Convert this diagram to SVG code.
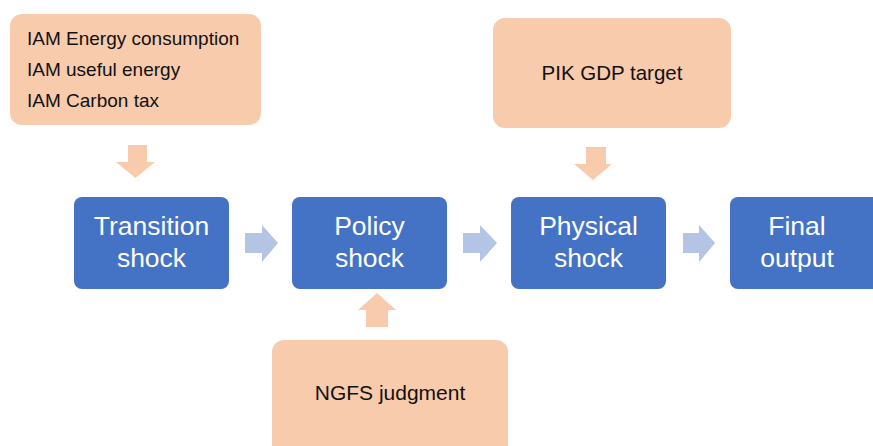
<svg xmlns="http://www.w3.org/2000/svg" width="873" height="446" viewBox="0 0 873 446">
<style>
.src{fill:#F8CBAD;}
.stage{fill:#4472C4;}
.t{font-family:"Liberation Sans","Open Sans",sans-serif;fill:#111111;}
.w{font-family:"Liberation Sans","Open Sans",sans-serif;fill:#ffffff;font-size:26.5px;text-anchor:middle;}
.oa{fill:#F8CBAD;}
.ba{fill:#B4C4E4;}
</style>
<rect width="873" height="446" fill="#ffffff"/>
<g id="iam">
<rect class="src" x="10" y="14" width="251" height="111" rx="12"/>
<text class="t" x="27" y="45" font-size="19">IAM Energy consumption</text>
<text class="t" x="27" y="76" font-size="19">IAM useful energy</text>
<text class="t" x="27" y="107" font-size="19">IAM Carbon tax</text>
</g>
<g id="pik">
<rect class="src" x="493" y="18" width="238" height="110" rx="12"/>
<text class="t" x="612" y="80" font-size="20.5" text-anchor="middle">PIK GDP target</text>
</g>
<g id="ngfs">
<rect class="src" x="272" y="340" width="236" height="120" rx="12"/>
<text class="t" x="390" y="400" font-size="21" text-anchor="middle">NGFS judgment</text>
</g>
<g id="transition">
<rect class="stage" x="74" y="197" width="155" height="92" rx="8"/>
<text class="w" x="151.5" y="235">Transition</text>
<text class="w" x="151.5" y="267">shock</text>
</g>
<g id="policy">
<rect class="stage" x="292" y="197" width="155" height="92" rx="8"/>
<text class="w" x="369.5" y="235">Policy</text>
<text class="w" x="369.5" y="267">shock</text>
</g>
<g id="physical">
<rect class="stage" x="511" y="197" width="155" height="92" rx="8"/>
<text class="w" x="588.5" y="235">Physical</text>
<text class="w" x="588.5" y="267">shock</text>
</g>
<g id="final">
<rect class="stage" x="730" y="197" width="155" height="92" rx="8"/>
<text class="w" x="797" y="235">Final</text>
<text class="w" x="797" y="267">output</text>
</g>
<g id="connectors">
<polygon class="oa" points="128,145 147,145 147,162 155,162 135.5,178 116,162 128,162"/>
<polygon class="oa" points="586,147 606,147 606,164 612,164 593,180 574,164 586,164"/>
<polygon class="oa" points="366,327 388,327 388,310 396,310 377,293 358,310 366,310"/>
<polygon class="ba" points="245,233 262,233 262,225 278,243 262,262 262,253 245,253"/>
<polygon class="ba" points="463,233 480,233 480,225 497,243 480,262 480,253 463,253"/>
<polygon class="ba" points="683,233 699,233 699,225 715,243 699,262 699,253 683,253"/>
</g>
</svg>
